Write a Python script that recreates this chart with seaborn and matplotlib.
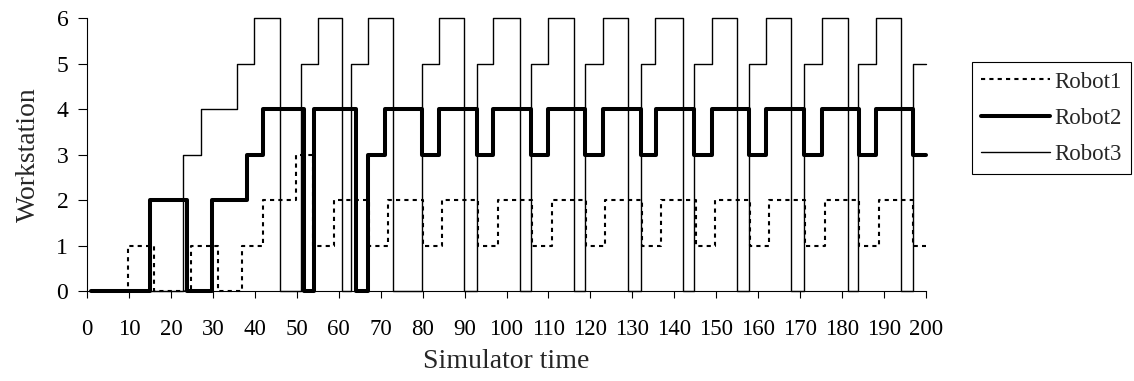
import matplotlib
matplotlib.use("Agg")
import matplotlib.pyplot as plt
import seaborn as sns
import pandas as pd

# ---- data ----
robot1_t = [1, 9.7, 16, 24.9, 31.3, 36.9, 42, 49.8, 53.8, 58.9, 67.2, 71.8, 80, 84.7,
            93.3, 98, 106, 110.8, 119, 123.5, 132.3, 136.8, 145.2, 149.7, 158, 162.6,
            171.2, 175.9, 184, 188.9, 197, 200]
robot1_v = [0, 1, 0, 1, 0, 1, 2, 3, 1, 2, 1, 2, 1, 2,
            1, 2, 1, 2, 1, 2, 1, 2, 1, 2, 1, 2,
            1, 2, 1, 2, 1, 1]

robot2_t = [1, 15.1, 23.9, 29.7, 38.1, 42, 51.7, 54.1, 64.1, 66.9, 71, 79.9, 83.9,
            93, 96.9, 105.8, 110, 118.7, 122.9, 132.1, 135.7, 144.8, 148.9, 157.7,
            161.9, 170.9, 175.1, 184, 188.1, 196.8, 200]
robot2_v = [0, 2, 0, 2, 3, 4, 0, 4, 0, 3, 4, 3, 4,
            3, 4, 3, 4, 3, 4, 3, 4, 3, 4, 3,
            4, 3, 4, 3, 4, 3, 3]

robot3_t = [1, 23, 27.1, 35.8, 39.8, 45.9, 50.9, 55.1, 60.9, 62.9, 67.1, 73, 79.8, 84,
            89.9, 93, 96.7, 103.2, 105.8, 110, 116.1, 118.7, 122.9, 128.9, 132.1, 135.4,
            142, 144.8, 149.1, 155, 157.7, 161.9, 167.8, 170.9, 175.1, 181.3, 183.9,
            188.1, 194, 196.8, 200]
robot3_v = [0, 3, 4, 5, 6, 0, 5, 6, 0, 5, 6, 0, 5, 6,
            0, 5, 6, 0, 5, 6, 0, 5, 6, 0, 5, 6,
            0, 5, 6, 0, 5, 6, 0, 5, 6, 0, 5,
            6, 0, 5, 5]

series_names = ["Robot1", "Robot2", "Robot3"]
x_ticks = list(range(0, 201, 10))
y_ticks = list(range(0, 7))

# ---- style ----
sns.set_style("ticks")
plt.rcParams["font.family"] = ["Liberation Serif", "DejaVu Serif"]

fig = plt.figure(figsize=(11.34, 3.81), dpi=100)
ax = fig.add_axes([87 / 1134, 1 - 291 / 381, (926 - 87) / 1134, (291 - 18.3) / 381])

styles = {
    "Robot1": dict(color="black", linewidth=1.5, linestyle=(0, (2, 2))),
    "Robot2": dict(color="black", linewidth=2.9, linestyle="-"),
    "Robot3": dict(color="black", linewidth=1.0, linestyle="-"),
}
data = {
    "Robot1": (robot1_t, robot1_v),
    "Robot2": (robot2_t, robot2_v),
    "Robot3": (robot3_t, robot3_v),
}

for name in series_names:
    t, v = data[name]
    df = pd.DataFrame({"time": t, "station": v})
    sns.lineplot(data=df, x="time", y="station", ax=ax, drawstyle="steps-post",
                 estimator=None, sort=False, label=name, clip_on=False,
                 **styles[name])

ax.set_xlim(0, 200)
ax.set_ylim(0, 6)
ax.set_xticks(x_ticks)
ax.set_yticks(y_ticks)
ax.tick_params(axis="x", direction="out", length=5, width=0.8, labelsize=16.5,
               pad=15, colors="black")
ax.tick_params(axis="y", direction="out", length=6.5, width=0.8, labelsize=17,
               pad=7, colors="black")
for s in ["top", "right"]:
    ax.spines[s].set_visible(False)
for s in ["left", "bottom"]:
    ax.spines[s].set_color("black")
    ax.spines[s].set_linewidth(0.8)

ax.set_xlabel("Simulator time", fontsize=20, labelpad=7)
ax.set_ylabel("Workstation", fontsize=20, labelpad=11)

leg = ax.legend(loc="upper left", bbox_to_anchor=(971.7 / 1134, 1 - 62.3 / 381),
                bbox_transform=fig.transFigure, borderaxespad=0, fontsize=16.5,
                frameon=True, fancybox=False, shadow=False, handlelength=3.0,
                handletextpad=0.2, labelspacing=0.66, borderpad=0.4)
leg.get_frame().set_edgecolor("black")
leg.get_frame().set_linewidth(0.8)
leg.get_frame().set_facecolor("white")
leg.get_frame().set_alpha(1)

fig.savefig("out.png", dpi=100)
